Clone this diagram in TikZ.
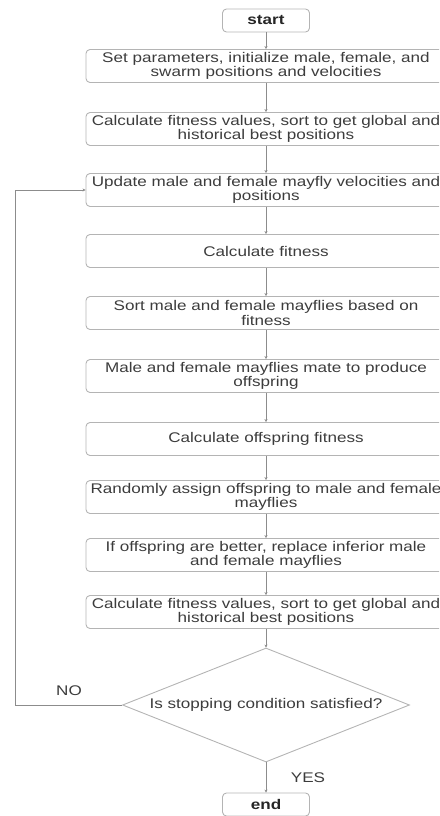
\documentclass[tikz,border=0pt]{standalone}
\usepackage{fontspec}
\setmainfont{Liberation Sans}
\usepackage{graphicx}
\usetikzlibrary{shapes.geometric,arrows.meta}
\definecolor{bd}{HTML}{B4B4B4}
\definecolor{tx}{HTML}{3C3C3C}
\definecolor{ln}{HTML}{8C8C8C}
\newcommand\hs[1]{\scalebox{1.22}[1]{#1}}
\begin{document}
\begin{tikzpicture}[x=1pt,y=-1pt,
  box/.style={draw=bd,line width=0.9pt,rounded corners=4pt,minimum width=360pt,minimum height=33pt,inner sep=0pt,text=tx,font=\fontsize{14}{14.5}\selectfont,align=center},
  term/.style={draw=bd,line width=0.9pt,rounded corners=4pt,minimum width=87pt,minimum height=23pt,inner sep=0pt,text=black!85,font=\fontsize{14}{14.5}\selectfont\bfseries},
  dec/.style={draw=bd,line width=0.9pt,diamond,minimum width=287pt,minimum height=114pt,shape aspect=2.5,inner sep=0pt,text=tx,font=\fontsize{14}{14.5}\selectfont},
  lab/.style={text=tx,font=\fontsize{14}{14.5}\selectfont,inner sep=0pt},
  arr/.style={draw=ln,line width=0.8pt,-{Stealth[length=3pt,width=3pt]}}]
\useasboundingbox (0,0) rectangle (439,816);
\clip (0,0) rectangle (439,816);
\node[term] (start) at (266,20.5) {\hs{start}};
\node[box] (b1) at (266,66) {\hs{Set parameters, initialize male, female, and}\\\hs{swarm positions and velocities}};
\node[box] (b2) at (266,129) {\hs{Calculate fitness values, sort to get global and}\\\hs{historical best positions}};
\node[box] (b3) at (266,190) {\hs{Update male and female mayfly velocities and}\\\hs{positions}};
\node[box] (b4) at (266,251) {\hs{Calculate fitness}};
\node[box] (b5) at (266,313) {\hs{Sort male and female mayflies based on}\\\hs{fitness}};
\node[box] (b6) at (266,376) {\hs{Male and female mayflies mate to produce}\\\hs{offspring}};
\node[box] (b7) at (266,439) {\hs{Calculate offspring fitness}};
\node[box] (b8) at (266,497) {\hs{Randomly assign offspring to male and female}\\\hs{mayflies}};
\node[box] (b9) at (266,555) {\hs{If offspring are better, replace inferior male}\\\hs{and female mayflies}};
\node[box] (b10) at (266,612) {\hs{Calculate fitness values, sort to get global and}\\\hs{historical best positions}};
\node[dec] (d) at (266,705) {\hs{Is stopping condition satisfied?}};
\node[term] (end) at (266,804.5) {\hs{end}};
\node[lab] (no) at (69,691) {\hs{NO}};
\node[lab] (yes) at (308,778) {\hs{YES}};
\coordinate (c1) at (15,705);
\coordinate (c2) at (15,190);
\draw[arr] (start) -- (b1);
\draw[arr] (b1) -- (b2);
\draw[arr] (b2) -- (b3);
\draw[arr] (b3) -- (b4);
\draw[arr] (b4) -- (b5);
\draw[arr] (b5) -- (b6);
\draw[arr] (b6) -- (b7);
\draw[arr] (b7) -- (b8);
\draw[arr] (b8) -- (b9);
\draw[arr] (b9) -- (b10);
\draw[arr] (b10) -- (d);
\draw[arr] (d) -- (end);
\draw[arr] (d.west) -- (c1) -- (c2) -- (b3.west);
\end{tikzpicture}
\end{document}
